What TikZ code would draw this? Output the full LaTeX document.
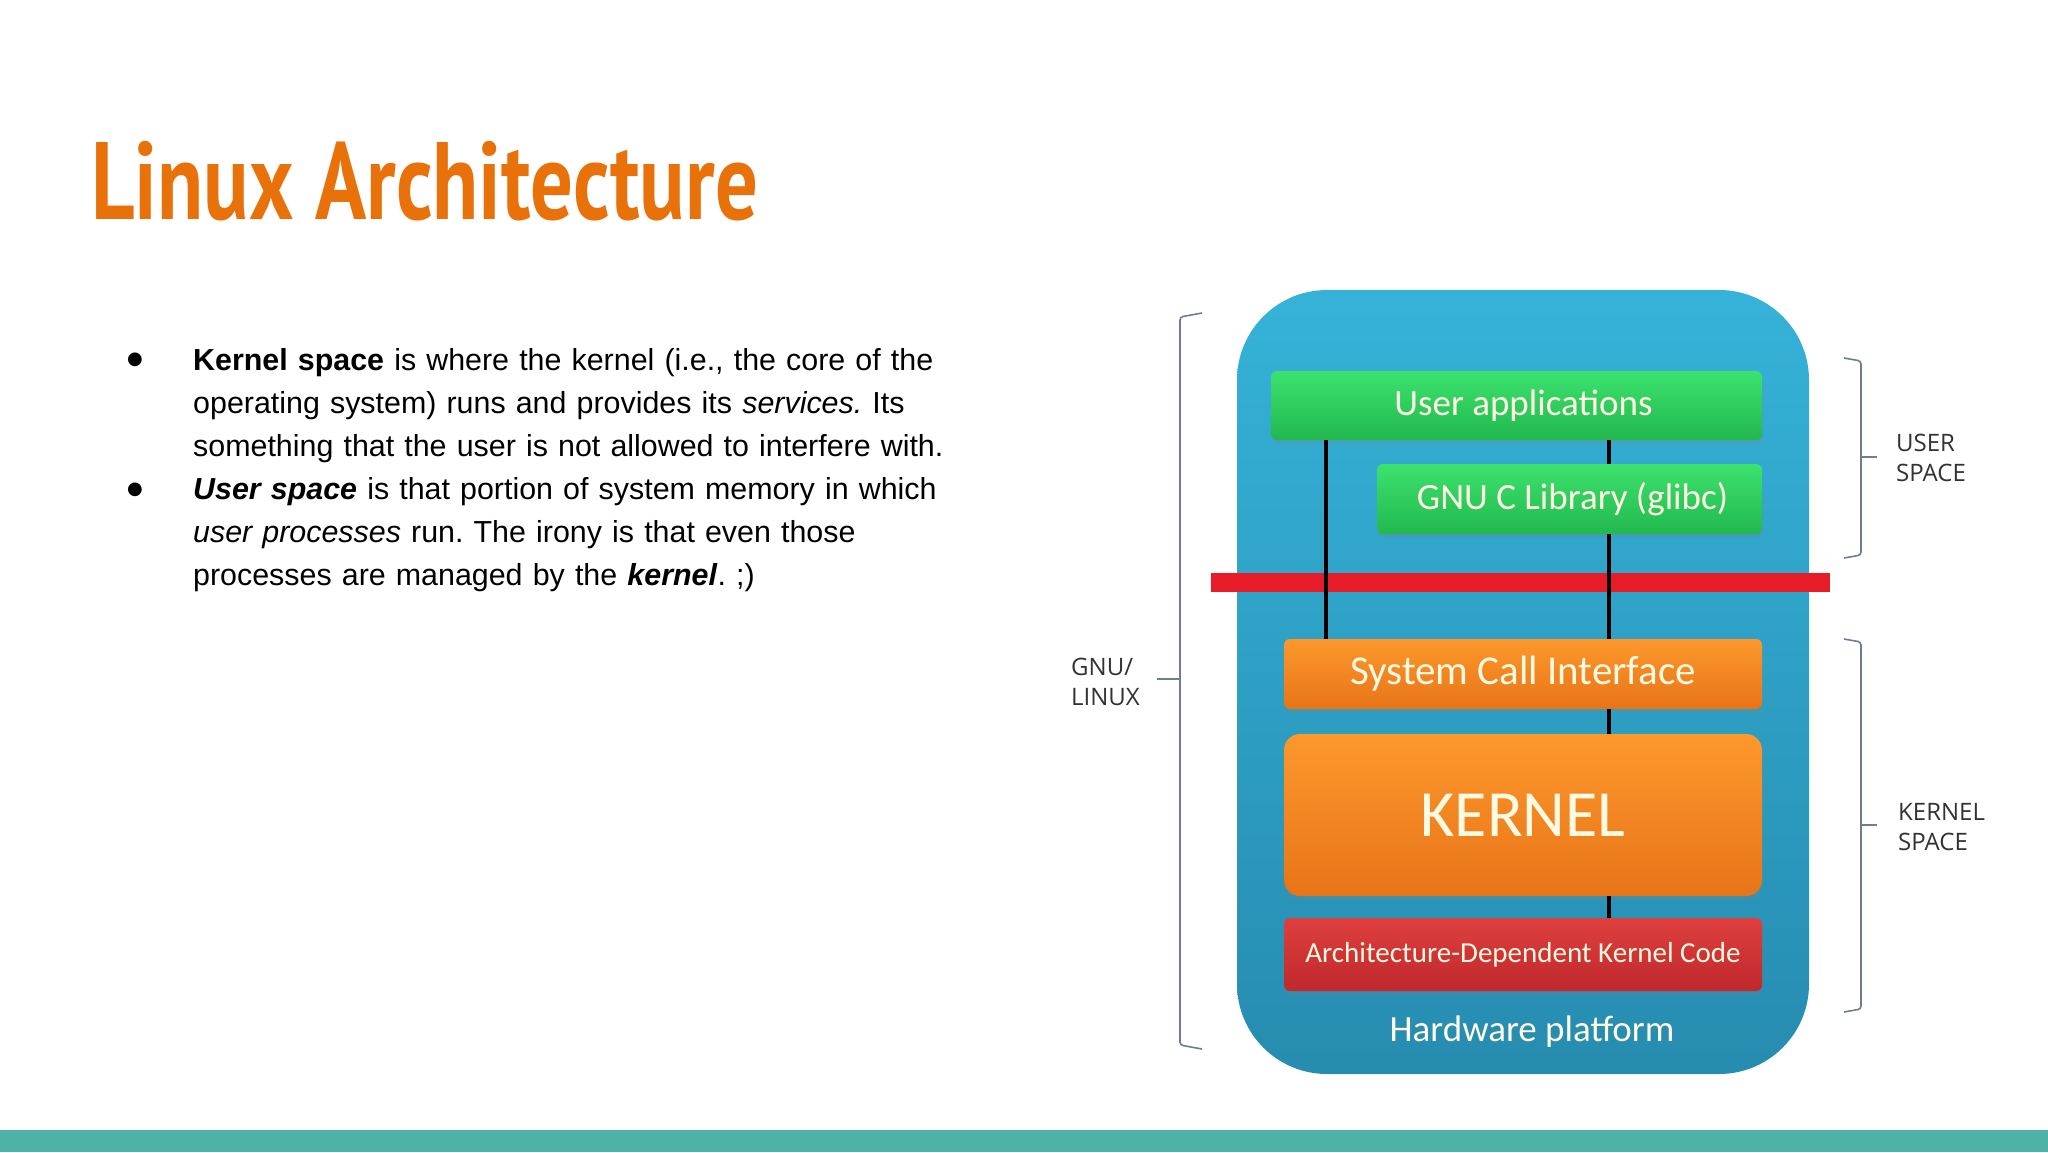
\documentclass[tikz,border=0pt]{standalone}
\usepackage{fontspec}
\setmainfont{Liberation Sans}
\newfontfamily\titlefont[FakeStretch=0.77]{PT Sans}
\newfontfamily\boxfont{Carlito}
\newfontfamily\labelfont{Open Sans}
\newfontfamily\symbolfont{DejaVu Sans}
\usetikzlibrary{positioning,shadows}
\frenchspacing
\definecolor{titleorange}{RGB}{232,113,10}
\definecolor{footteal}{RGB}{78,178,166}
\definecolor{platformtop}{RGB}{54,178,216}
\definecolor{platformbot}{RGB}{38,140,176}
\definecolor{greentop}{RGB}{60,226,110}
\definecolor{greenbot}{RGB}{34,184,78}
\definecolor{orangetop}{RGB}{252,152,44}
\definecolor{orangebot}{RGB}{232,116,24}
\definecolor{redtop}{RGB}{222,64,62}
\definecolor{redbot}{RGB}{192,40,44}
\definecolor{barred}{RGB}{232,28,40}
\definecolor{boxtext}{RGB}{255,250,225}
\definecolor{bracegray}{RGB}{110,125,150}
\definecolor{labelgray}{RGB}{50,50,50}
\tikzset{
  layer/.style={rounded corners=6pt, minimum width=478pt, minimum height=70pt, inner sep=0pt, text=boxtext,
    font=\boxfont\fontsize{37}{40}\selectfont, drop shadow={opacity=0.2, shadow xshift=1pt, shadow yshift=-4pt}},
  userlayer/.style={layer, top color=greentop, bottom color=greenbot},
  kernlayer/.style={layer, top color=orangetop, bottom color=orangebot},
  archlayer/.style={layer, top color=redtop, bottom color=redbot},
  link/.style={line width=3.5pt, black},
  brace/.style={line width=1.6pt, bracegray, rounded corners=3pt},
  side/.style={font=\labelfont\fontsize{24}{30}\selectfont, text=labelgray, align=left, inner sep=0pt, anchor=west},
  bulletdot/.style={font=\symbolfont\fontsize{18}{18}\selectfont, inner sep=0pt},
  para/.style={text width=860pt, anchor=base west, inner sep=0pt, font=\fontsize{30.4}{43}\selectfont, align=left}
}
\begin{document}
\begin{tikzpicture}[x=1pt, y=-1pt]
  \useasboundingbox (0,0) rectangle (2048,1152);
  \fill[white] (0,0) rectangle (2048,1152);
  \fill[footteal] (0,1130) rectangle (2048,1152);

  \node[anchor=base west, inner sep=0pt, text=titleorange, font=\titlefont\bfseries\fontsize{110}{110}\selectfont] (title) at (91,219) {Linux Architecture};

  % bullets
  \node[bulletdot] (b1) at (135,360) {●};
  \node[para] (p1) at (193,370) {\textbf{Kernel space} is where the kernel (i.e., the core of the\\
    operating system) runs and provides its \textit{services.} Its\\
    something that the user is not allowed to interfere with.};
  \node[bulletdot] (b2) at (135,490) {●};
  \node[para] (p2) at (193,499) {\textbf{\textit{User space}} is that portion of system memory in which\\
    \textit{user processes} run. The irony is that even those\\
    processes are managed by the \textbf{\textit{kernel}}. ;)};

  % platform and layers
  \node[rounded corners=90pt, top color=platformtop, bottom color=platformbot, minimum width=572pt, minimum height=784pt, inner sep=0pt] (hw) at (1523,682) {};
  \node[userlayer, minimum width=491pt, minimum height=69pt] (ua) at (1516.5,405.5) {\hspace{14pt}User applications};
  \node[userlayer, minimum width=385pt] (glibc) at (1569.5,499) {\hspace{6pt}GNU C Library (glibc)};
  \node[fill=barred, minimum width=619pt, minimum height=19pt, inner sep=0pt] (barrier) at (1520.5,582.5) {};
  \node[kernlayer, font=\boxfont\fontsize{41}{44}\selectfont] (sci) at (1523,674) {System Call Interface};
  \node[kernlayer, minimum height=162pt, rounded corners=16pt, font=\boxfont\fontsize{66}{70}\selectfont] (kern) at (1523,815) {KERNEL};
  \node[archlayer, minimum height=73pt, font=\boxfont\fontsize{29}{32}\selectfont] (arch) at (1523,954.5) {Architecture-Dependent Kernel Code};
  \node[text=boxtext, font=\boxfont\fontsize{37}{40}\selectfont, inner sep=0pt] (hwlabel) at (1532,1032) {Hardware platform};

  \coordinate (lcol) at (1326,0);
  \coordinate (rcol) at (1609,0);
  \draw[link] (ua.south -| lcol) -- (sci.north -| lcol);
  \draw[link] (ua.south -| rcol) -- (glibc.north -| rcol);
  \draw[link] (glibc.south -| rcol) -- (sci.north -| rcol);
  \draw[link] (sci.south -| rcol) -- (kern.north -| rcol);
  \draw[link] (kern.south -| rcol) -- (arch.north -| rcol);

  % brackets
  \draw[brace] (1202,313) -- (1180,317) -- (1180,1045) -- (1202,1049);
  \draw[brace] (1180,679) -- (1157,679);
  \node[side] (gnu) at (1071,682) {GNU/\\LINUX};
  \draw[brace] (1844,358) -- (1861,361) -- (1861,555) -- (1844,558);
  \draw[brace] (1861,457) -- (1877,457);
  \node[side] (uspace) at (1896,458) {USER\\SPACE};
  \draw[brace] (1844,639) -- (1861,642) -- (1861,1009) -- (1844,1012);
  \draw[brace] (1861,825) -- (1877,825);
  \node[side] (kspace) at (1898,827) {KERNEL\\SPACE};
\end{tikzpicture}
\end{document}
